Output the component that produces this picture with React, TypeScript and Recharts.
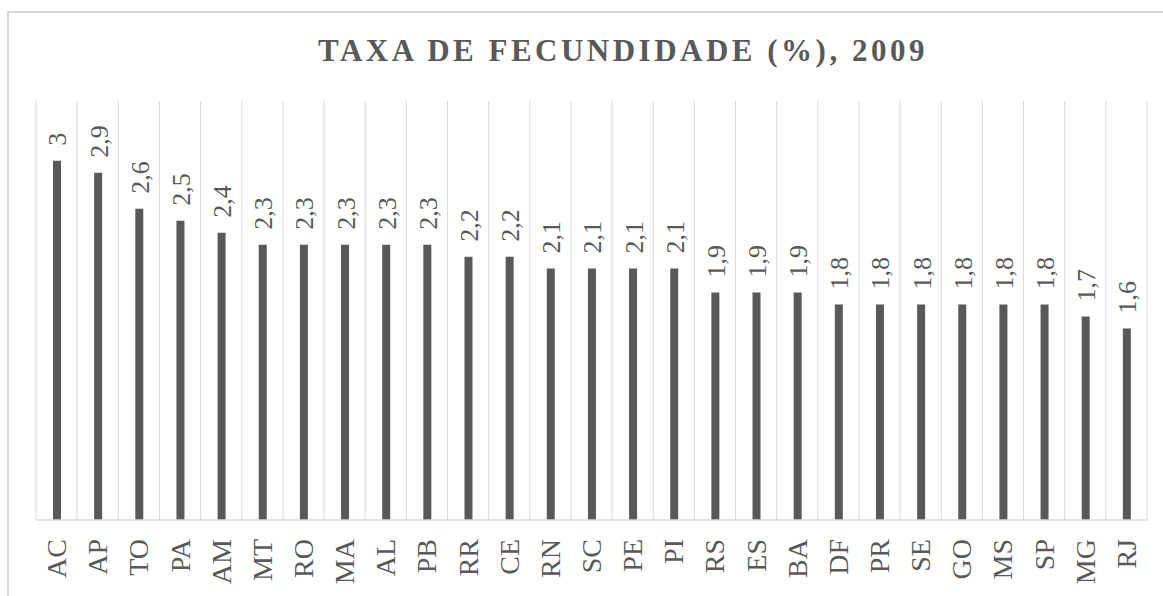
import React from "react";
import { BarChart, Bar, XAxis, YAxis, CartesianGrid, LabelList } from "recharts";

const categories = ["AC","AP","TO","PA","AM","MT","RO","MA","AL","PB","RR","CE","RN","SC","PE","PI","RS","ES","BA","DF","PR","SE","GO","MS","SP","MG","RJ"];
const values = [3,2.9,2.6,2.5,2.4,2.3,2.3,2.3,2.3,2.3,2.2,2.2,2.1,2.1,2.1,2.1,1.9,1.9,1.9,1.8,1.8,1.8,1.8,1.8,1.8,1.7,1.6];
const title = "TAXA DE FECUNDIDADE (%), 2009";
const yDomain = [0, 3.5];

const data = categories.map((uf, i) => ({ uf, value: values[i] }));

const FONT = "'Liberation Serif', 'Times New Roman', serif";
const TEXT = "#595959";
const GRID = "#d9d9d9";

const fmt = (v: number) => String(v).replace(".", ",");

const Tick = (props: any) => {
  const { x, y, payload } = props;
  const ay = y + 19;
  return (
    <text
      x={x}
      y={ay}
      transform={`rotate(-90 ${x} ${ay})`}
      textAnchor="end"
      dominantBaseline="central"
      fontFamily={FONT}
      fontSize={28}
      fill={TEXT}
    >
      {payload.value}
    </text>
  );
};

const ValueLabel = (props: any) => {
  const { x, y, width, value } = props;
  const cx = x + width / 2 + 1;
  const ay = y - 15;
  return (
    <text
      x={cx}
      y={ay}
      transform={`rotate(-90 ${cx} ${ay})`}
      textAnchor="start"
      dominantBaseline="central"
      fontFamily={FONT}
      fontSize={26}
      fill={TEXT}
    >
      {fmt(value)}
    </text>
  );
};

export default function App() {
  return (
    <div style={{ position: "fixed", left: 0, top: 0, width: 1163, height: 596, overflow: "hidden", background: "#fff" }}>
      <div
        style={{
          position: "absolute",
          left: 7,
          top: 11,
          width: 1300,
          height: 800,
          border: `2px solid ${GRID}`,
          boxSizing: "border-box",
        }}
      />
      <svg style={{ position: "absolute", left: 0, top: 0 }} width={1163} height={100}>
        <text
          x={623}
          y={61}
          textAnchor="middle"
          fontFamily={FONT}
          fontWeight="bold"
          fontSize={31}
          letterSpacing={3.5}
          fill={TEXT}
        >
          {title}
        </text>
      </svg>
      <div style={{ position: "absolute", left: 0, top: 0 }}>
        <BarChart
          width={1163}
          height={596}
          data={data}
          margin={{ top: 101, right: 16, left: 36, bottom: 16 }}
          barCategoryGap={0}
        >
          <CartesianGrid
            horizontal={false}
            stroke={GRID}
            strokeWidth={1}
            verticalCoordinatesGenerator={({ offset }: any) =>
              Array.from({ length: categories.length + 1 }, (_, i) => offset.left + (i * offset.width) / categories.length)
            }
          />
          <YAxis hide domain={yDomain} width={0} />
          <XAxis
            dataKey="uf"
            interval={0}
            height={60}
            tickLine={false}
            tickSize={0}
            tickMargin={0}
            axisLine={{ stroke: GRID, strokeWidth: 1.5 }}
            tick={<Tick />}
          />
          <Bar dataKey="value" fill="#595959" barSize={8} isAnimationActive={false}>
            <LabelList dataKey="value" content={<ValueLabel />} />
          </Bar>
        </BarChart>
      </div>
    </div>
  );
}
